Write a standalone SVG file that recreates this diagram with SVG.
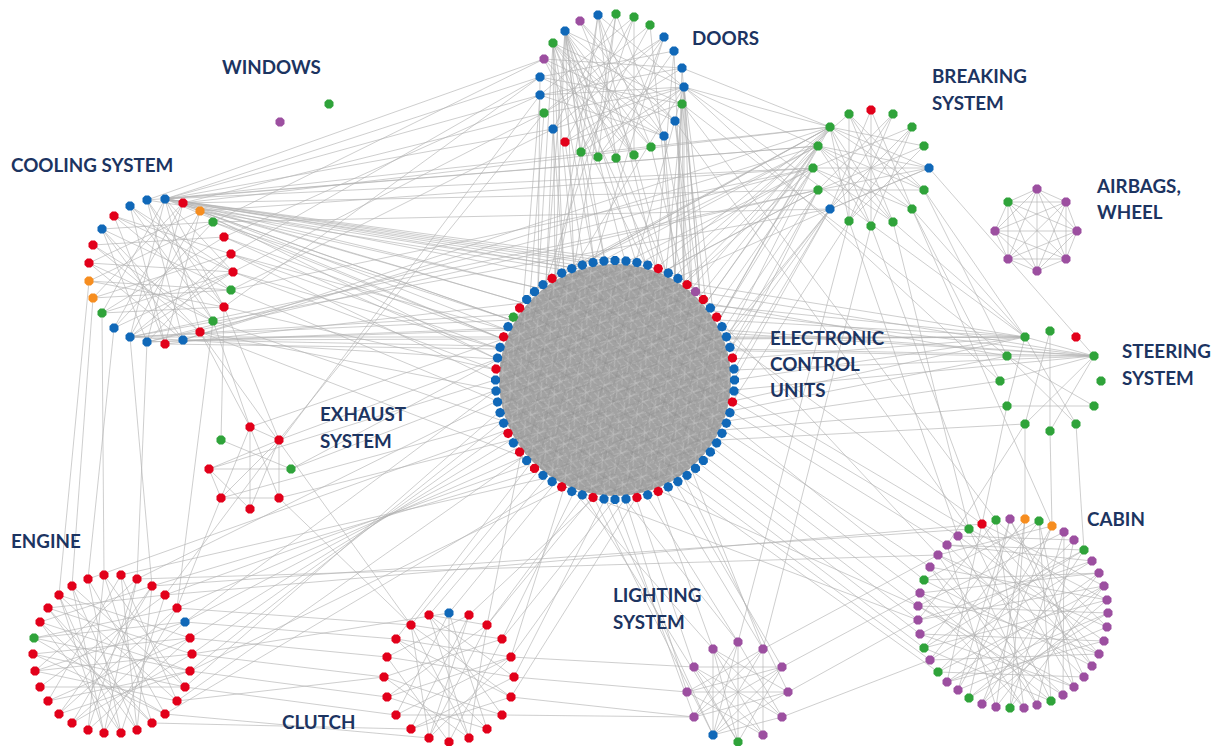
<svg xmlns="http://www.w3.org/2000/svg" width="1220" height="746" viewBox="0 0 1220 746">
<style>
.e{fill:none;stroke:#b2b2b2;stroke-width:0.75;stroke-opacity:0.85}
.b{fill:#1068b8}.r{fill:#e2001a}.g{fill:#2fa33a}.p{fill:#9c4fa0}.o{fill:#f68d1f}
.t{font-family:Lato,"Open Sans","Liberation Sans",sans-serif;font-weight:700;font-size:18.8px;fill:#1c3461}
</style>
<defs>
<polygon id="n" points="4.5,1.9 1.9,4.5 -1.9,4.5 -4.5,1.9 -4.5,-1.9 -1.9,-4.5 1.9,-4.5 4.5,-1.9"/>
<pattern id="mesh" width="14" height="14" patternUnits="userSpaceOnUse" patternTransform="rotate(23)">
<path d="M0 3L14 9M0 11L14 1M4 0L9 14M12 0L2 14" stroke="#c2c2c2" stroke-width="0.7" fill="none"/>
</pattern>
<pattern id="mesh2" width="19" height="17" patternUnits="userSpaceOnUse" patternTransform="rotate(-41)">
<path d="M0 5L19 12M0 14L19 2M7 0L13 17" stroke="#8c8c8c" stroke-width="0.5" fill="none"/>
</pattern>
</defs>
<rect width="1220" height="746" fill="#ffffff"/>
<g id="connectors">
<path class="e" d="M565 31L616 158M565 31L634 155M565 31L651 147M565 31L581 152M565 31L598 157M553 43L664 136M553 43L634 155M553 43L598 157M598 15L616 158M598 15L581 152M598 15L651 147M616 14L598 157M616 14L553 129M634 17L565 142M634 17L540 95M650 25L544 113M650 25L581 152M664 37L581 152M664 37L553 129M664 37L616 158M674 51L540 77M674 51L598 157M682 68L540 95M682 68L565 142M684 87L544 113M684 87L553 129M684 87L540 95M684 87L598 157M684 87L581 152M682 104L565 142M682 104L540 77M675 121L544 59M675 121L565 31M664 136L540 77M664 136L580 21M651 147L553 43M634 155L544 59M580 21L675 121M580 21L634 155M544 59L682 68M540 95L664 136M544 113L664 37M616 14L664 136M634 17L634 155M598 15L684 87M565 31L684 87M553 43L682 104"/>
<path class="e" d="M130 206L213 321M130 206L233 272M147 200L183 340M147 200L224 307M165 199L130 337M165 199L200 332M165 199L102 313M183 203L93 298M183 203L147 342M200 211L89 263M200 211L165 344M213 222L114 328M213 222L89 281M213 222L102 229M224 237L102 313M224 237L93 245M231 254L114 216M231 254L93 298M231 254L130 337M233 272L89 263M233 272L114 328M231 290L102 229M231 290L130 206M231 290L89 281M224 307L114 216M224 307L102 313M213 321L93 245M213 321L147 200M200 332L102 229M183 340L89 263M165 344L130 206M165 344L114 216M147 342L102 229M130 337L200 211M114 328L183 203M102 313L233 272M93 298L231 290M89 281L224 307M89 263L213 321M93 245L200 332M102 229L183 340M114 216L233 272M165 199L233 272M165 199L224 307M130 337L233 272M147 342L231 254"/>
<path class="e" d="M830 127L924 146M830 127L924 190M830 127L893 222M830 127L849 221M818 146L929 168M818 146L912 209M818 146L871 226M813 168L912 127M813 168L929 168M813 168L893 222M818 190L893 114M818 190L924 146M818 190L929 168M830 209L871 110M830 209L912 127M830 209L929 168M849 221L849 114M849 221L893 114M849 221L924 146M871 226L871 110M871 226L912 127M871 226L830 127M893 222L849 114M893 222L818 146M912 209L849 114M912 209L813 168M924 190L818 190M924 190L818 146M849 114L924 190M871 110L912 209M893 114L830 209M912 127L849 221M929 168L830 127M929 168L830 209"/>
<path class="e" d="M1037 189L1066 202M1037 189L1077 231M1037 189L1066 259M1037 189L1037 271M1037 189L1008 259M1037 189L995 231M1037 189L1008 202M1066 202L1077 231M1066 202L1066 259M1066 202L1037 271M1066 202L1008 259M1066 202L995 231M1066 202L1008 202M1077 231L1066 259M1077 231L1037 271M1077 231L1008 259M1077 231L995 231M1077 231L1008 202M1066 259L1037 271M1066 259L1008 259M1066 259L995 231M1066 259L1008 202M1037 271L1008 259M1037 271L995 231M1037 271L1008 202M1008 259L995 231M1008 259L1008 202M995 231L1008 202"/>
<path class="e" d="M1025 337L1094 356M1025 337L1076 424M1025 337L1007 406M1050 331L1050 431M1050 331L1025 424M1007 356L1094 356M1007 356L1094 406M1000 381L1094 356M1007 406L1094 406M1025 424L1094 356M1076 424L1007 356M1050 431L1094 356"/>
<path class="e" d="M250 427L250 509M250 427L221 498M250 427L279 498M250 427L279 440M279 440L279 498M209 469L291 469M209 469L279 440M221 440L291 469M221 498L279 498M209 469L250 509M221 498L279 440M250 509L279 440M209 469L221 498"/>
<path class="e" d="M88 579L121 733M88 579L165 714M104 575L88 730M104 575L185 687M121 575L48 701M121 575L137 730M137 579L35 671M137 579L104 733M152 586L72 723M152 586L40 622M165 595L40 687M165 595L48 608M177 608L59 714M177 608L34 638M185 622L34 638M185 622L35 671M185 622L72 723M190 638L33 654M190 638L59 595M192 654L35 671M192 654L48 608M190 671L40 622M190 671L48 701M185 687L72 586M185 687L33 654M177 701L59 595M177 701L121 575M165 714L34 638M152 723L104 575M152 723L48 608M137 730L152 586M137 730L72 586M121 733L165 595M121 733L40 622M104 733L177 608M104 733L59 595M88 730L190 638M88 730L137 579M72 723L192 654M59 714L190 671M59 714L152 586M48 701L190 638M40 687L185 687M35 671L177 701M33 654L165 714M34 638L190 671M40 622L152 723M48 608L137 730M59 595L121 733M72 586L104 733"/>
<path class="e" d="M449 613L449 742M449 613L396 715M469 615L411 729M469 615L387 657M487 625L387 697M487 625L429 738M502 639L384 677M502 639L411 625M511 657L396 639M511 657L396 715M514 677L387 657M514 677L429 615M511 697L411 625M511 697L411 729M502 715L429 615M502 715L384 677M487 729L396 639M487 729L449 613M469 738L411 625M469 738L487 625M449 742L502 639M429 738L511 657M429 738L469 615M411 729L514 677M396 715L502 715M387 697L511 657M387 697L487 729M384 677L469 738M387 657L449 742M396 639L511 697M411 625L429 738M429 615L469 738M429 615L487 625"/>
<path class="e" d="M738 642L738 742M738 642L694 717M738 642L782 717M763 649L713 735M763 649L687 692M763 649L763 735M782 667L694 717M782 667L694 667M782 667L713 735M788 692L687 692M788 692L713 649M788 692L713 735M782 717L694 667M763 735L713 649M763 735L687 692M738 742L694 667M738 742L782 667M713 735L713 649M713 735L738 642M694 717L763 649M694 717L788 692M687 692L782 667M694 667L763 735M713 649L782 717M713 649L738 742M713 735L782 717"/>
<path class="e" d="M982 524L1074 687M982 524L947 682M996 520L1024 708M996 520L918 620M1010 519L1092 666M1010 519L969 698M1025 519L996 707M1025 519L924 648M1039 521L1051 701M1039 521L924 580M1052 526L958 690M1052 526L938 555M1064 532L1010 708M1064 532L918 606M1074 540L938 672M1074 540L958 536M1084 550L982 704M1084 550L920 634M1092 561L930 660M1092 561L947 545M1099 573L947 682M1099 573L920 593M1104 586L918 620M1104 586L969 698M1107 600L930 567M1107 600L924 648M1108 613L918 606M1108 613L947 682M1107 627L938 555M1107 627L996 520M1104 641L958 536M1104 641L920 634M1099 654L982 524M1099 654L920 593M1092 666L969 529M1092 666L924 580M1084 677L1010 519M1084 677L947 545M1074 687L1039 521M1074 687L918 606M1063 695L930 567M1063 695L1064 532M1051 701L969 529M1051 701L924 648M1037 705L938 555M1037 705L1074 540M1024 708L920 593M1010 708L1025 519M1010 708L1104 586M996 707L1099 573M996 707L947 545M982 704L1107 600M982 704L1052 526M969 698L1108 613M958 690L1107 627M958 690L1010 519M947 682L1104 641M938 672L1104 586M938 672L1084 677M930 660L1099 654M930 660L1039 521M924 648L1084 550M920 634L1074 687M918 620L1092 561M918 606L1063 695M920 593L1051 701M924 580L1099 573M930 567L1024 708M938 555L1099 654M947 545L1084 550M958 536L1037 705M969 529L1107 600M982 524L1104 586"/>
<path class="e" d="M165 199L540 77M165 199L540 95M165 199L553 129M165 199L830 127M165 199L818 146M165 199L813 168M165 199L636 262M165 199L656 268M165 199L594 262M165 199L538 288M165 199L523 303M165 199L511 320M165 199L503 339M165 199L1025 337M165 199L692 288M183 203L523 303M183 203L555 276M183 203L544 113M183 203L818 190M183 203L675 276M183 203L497 359M183 203L830 127M147 200L544 59M147 200L574 268M147 200L818 146M200 211L511 320M200 211L538 288M200 211L1094 356M200 211L813 168M213 222L503 339M213 222L830 209M213 222L544 59M224 237L497 359M224 237L540 95M231 254L495 380M231 254L507 330M231 254L540 77M233 272L500 349M233 272L544 113M231 290L497 401M231 290L813 168M231 290L553 129M224 307L496 370M224 307L279 440M224 307L540 77M224 307L221 440M213 321L503 421M213 321L250 427M213 321L177 608M200 332L496 390M200 332L523 457M200 332L250 427M200 332L411 625M183 340L503 339M183 340L830 127M183 340L818 146M183 340L1007 356M165 344L500 349M165 344L523 303M147 342L507 330M147 342L813 168M147 342L719 320M147 342L818 190M147 342L137 579M130 337L511 320M130 337L1025 337M130 337L818 190M130 337L497 359M130 337L706 303M130 337L830 209M130 337L152 586M114 328L88 579M102 313L104 575M93 298L72 586M89 281L59 595M231 254L500 349M233 272L496 370M224 237L503 339M213 222L511 320M200 211L507 330"/>
<path class="e" d="M565 31L574 268M565 31L555 276M565 31L594 262M565 31L636 262M553 43L555 276M553 43L538 288M553 43L574 268M553 43L656 268M553 129L546 282M553 129L564 272M565 142L584 265M581 152L605 261M598 157L625 261M616 158L646 265M634 155L666 272M651 147L684 282M664 136L692 288M675 121L700 296M682 104L675 276M682 104L706 303M684 87L713 311M684 87L684 282M684 87L666 272M684 87L574 268M684 87L636 262M682 68L700 296M674 51L656 268M664 37L594 262M598 15L555 276M598 15L656 268M616 14L574 268M540 77L538 288M540 95L523 303M544 113L530 296M544 59L646 265M634 17L546 282M650 25L675 276M684 87L830 127M684 87L818 146M684 87L1025 337M682 104L1007 356M682 68L830 127M684 87L1000 381M675 121L969 529M682 104L996 520M544 113L279 440M565 31L605 261M565 31L546 282M553 43L594 262M553 43L564 272M565 31L666 272M684 87L692 288M684 87L700 296M682 104L684 282M675 121L692 288M664 136L675 276M682 68L675 276M674 51L684 282"/>
<path class="e" d="M830 127L675 276M830 127L692 288M830 127L706 303M830 127L574 268M830 127L538 288M818 146L719 320M818 146L700 296M818 146L684 282M818 146L523 303M813 168L727 339M813 168L713 311M813 168L503 339M818 190L723 330M818 190L733 359M818 190L497 359M830 209L730 349M830 209L734 380M830 209L734 370M849 114L666 272M849 221L733 401M818 190L291 469M813 168L511 440M871 226L982 524M893 222L969 529M893 222L1025 337M912 209L1025 337M924 190L1007 356M929 168L1094 356M924 190L1025 337M912 209L1000 381M871 226L763 649M849 221L738 642M830 209L487 625M912 209L1052 526M849 221L958 536M830 127L656 268M830 127L719 320M818 146L706 303M813 168L719 320M818 190L730 349M830 209L727 339M830 127L555 276M818 146L546 282M813 168L511 320M830 209L497 359"/>
<path class="e" d="M719 320L1025 337M727 339L1025 337M733 359L1025 337M734 380L1025 337M733 401L1025 337M713 311L1094 356M723 330L1094 356M730 349L1094 356M734 370L1094 356M734 390L1094 356M730 411L1007 356M727 421L1000 381M723 430L1007 406M538 288L1025 337M511 320L1094 356M503 339L1025 337M719 440L1025 424M706 303L1007 356M1025 424L1025 519M1050 431L1052 526M1007 406L982 524M1025 424L947 545M1076 424L1084 550"/>
<path class="e" d="M727 421L924 580M723 430L930 567M719 440L920 593M713 448L918 606M706 457L918 620M700 464L920 634M733 401L958 536M730 411L947 545M734 390L969 529M727 339L982 524M719 320L938 555M692 471L924 648M684 478L930 660M675 483L938 672M503 421L918 606M555 483L918 620"/>
<path class="e" d="M636 498L694 667M656 492L713 649M646 495L738 642M666 488L763 649M675 483L782 667M625 499L687 692M615 499L694 717M605 499L713 735M594 498L713 735M684 478L788 692M692 471L763 649M625 499L738 642M574 492L713 649M584 495L738 742M788 692L918 620M782 667L920 593M782 717L930 660M763 649L938 555"/>
<path class="e" d="M594 498L469 615M584 495L487 625M574 492L502 639M564 488L511 657M555 483L449 613M605 499L514 677M615 499L502 639M546 478L429 615M538 471L411 625M625 499L511 657M636 498L511 697M530 464L396 639"/>
<path class="e" d="M538 471L152 586M530 464L165 595M523 457L177 608M517 448L185 622M511 440L190 638M507 430L192 654M503 421L190 671M500 411L185 687M497 401L137 579M523 457L177 701M555 483L165 714M546 478L121 575M496 390L185 622M507 430L88 579M564 488L190 671"/>
<path class="e" d="M190 638L387 657M192 654L384 677M190 671L387 697M185 687L396 715M177 701L384 677M165 714L429 738M185 622L396 639M177 608L411 625M152 723L411 729M192 654L449 613M152 586L969 529M165 595L982 524M137 579L938 555M514 677L687 692M511 697L694 717M511 657L694 667M502 715L694 717M487 625L581 152M165 595L540 95"/>
<path class="e" d="M279 440L497 359M291 469L496 390M250 427L503 339M209 469L495 380M221 498L503 421M279 498L511 440M221 498L177 608M279 498L411 625"/>
</g>
<g id="ecu">
<circle cx="615" cy="380" r="116" fill="#a2a2a2"/>
<circle cx="615" cy="380" r="116" fill="url(#mesh)"/>
<circle cx="615" cy="380" r="116" fill="url(#mesh2)"/>
<use href="#n" x="615" y="260.5" class="b" transform="rotate(0 615 380)"/>
<use href="#n" x="615" y="260.5" class="b" transform="rotate(5.29 615 380)"/>
<use href="#n" x="615" y="260.5" class="b" transform="rotate(10.59 615 380)"/>
<use href="#n" x="615" y="260.5" class="b" transform="rotate(15.88 615 380)"/>
<use href="#n" x="615" y="260.5" class="r" transform="rotate(21.18 615 380)"/>
<use href="#n" x="615" y="260.5" class="b" transform="rotate(26.47 615 380)"/>
<use href="#n" x="615" y="260.5" class="b" transform="rotate(31.76 615 380)"/>
<use href="#n" x="615" y="260.5" class="r" transform="rotate(37.06 615 380)"/>
<use href="#n" x="615" y="260.5" class="p" transform="rotate(42.35 615 380)"/>
<use href="#n" x="615" y="260.5" class="r" transform="rotate(47.65 615 380)"/>
<use href="#n" x="615" y="260.5" class="b" transform="rotate(52.94 615 380)"/>
<use href="#n" x="615" y="260.5" class="r" transform="rotate(58.24 615 380)"/>
<use href="#n" x="615" y="260.5" class="b" transform="rotate(63.53 615 380)"/>
<use href="#n" x="615" y="260.5" class="b" transform="rotate(68.82 615 380)"/>
<use href="#n" x="615" y="260.5" class="b" transform="rotate(74.12 615 380)"/>
<use href="#n" x="615" y="260.5" class="r" transform="rotate(79.41 615 380)"/>
<use href="#n" x="615" y="260.5" class="b" transform="rotate(84.71 615 380)"/>
<use href="#n" x="615" y="260.5" class="b" transform="rotate(90 615 380)"/>
<use href="#n" x="615" y="260.5" class="b" transform="rotate(95.29 615 380)"/>
<use href="#n" x="615" y="260.5" class="r" transform="rotate(100.59 615 380)"/>
<use href="#n" x="615" y="260.5" class="b" transform="rotate(105.88 615 380)"/>
<use href="#n" x="615" y="260.5" class="b" transform="rotate(111.18 615 380)"/>
<use href="#n" x="615" y="260.5" class="b" transform="rotate(116.47 615 380)"/>
<use href="#n" x="615" y="260.5" class="b" transform="rotate(121.76 615 380)"/>
<use href="#n" x="615" y="260.5" class="b" transform="rotate(127.06 615 380)"/>
<use href="#n" x="615" y="260.5" class="b" transform="rotate(132.35 615 380)"/>
<use href="#n" x="615" y="260.5" class="b" transform="rotate(137.65 615 380)"/>
<use href="#n" x="615" y="260.5" class="b" transform="rotate(142.94 615 380)"/>
<use href="#n" x="615" y="260.5" class="b" transform="rotate(148.24 615 380)"/>
<use href="#n" x="615" y="260.5" class="b" transform="rotate(153.53 615 380)"/>
<use href="#n" x="615" y="260.5" class="r" transform="rotate(158.82 615 380)"/>
<use href="#n" x="615" y="260.5" class="b" transform="rotate(164.12 615 380)"/>
<use href="#n" x="615" y="260.5" class="r" transform="rotate(169.41 615 380)"/>
<use href="#n" x="615" y="260.5" class="b" transform="rotate(174.71 615 380)"/>
<use href="#n" x="615" y="260.5" class="b" transform="rotate(180 615 380)"/>
<use href="#n" x="615" y="260.5" class="b" transform="rotate(185.29 615 380)"/>
<use href="#n" x="615" y="260.5" class="r" transform="rotate(190.59 615 380)"/>
<use href="#n" x="615" y="260.5" class="b" transform="rotate(195.88 615 380)"/>
<use href="#n" x="615" y="260.5" class="b" transform="rotate(201.18 615 380)"/>
<use href="#n" x="615" y="260.5" class="r" transform="rotate(206.47 615 380)"/>
<use href="#n" x="615" y="260.5" class="b" transform="rotate(211.76 615 380)"/>
<use href="#n" x="615" y="260.5" class="b" transform="rotate(217.06 615 380)"/>
<use href="#n" x="615" y="260.5" class="r" transform="rotate(222.35 615 380)"/>
<use href="#n" x="615" y="260.5" class="b" transform="rotate(227.65 615 380)"/>
<use href="#n" x="615" y="260.5" class="r" transform="rotate(232.94 615 380)"/>
<use href="#n" x="615" y="260.5" class="b" transform="rotate(238.24 615 380)"/>
<use href="#n" x="615" y="260.5" class="r" transform="rotate(243.53 615 380)"/>
<use href="#n" x="615" y="260.5" class="b" transform="rotate(248.82 615 380)"/>
<use href="#n" x="615" y="260.5" class="b" transform="rotate(254.12 615 380)"/>
<use href="#n" x="615" y="260.5" class="b" transform="rotate(259.41 615 380)"/>
<use href="#n" x="615" y="260.5" class="b" transform="rotate(264.71 615 380)"/>
<use href="#n" x="615" y="260.5" class="b" transform="rotate(270 615 380)"/>
<use href="#n" x="615" y="260.5" class="r" transform="rotate(275.29 615 380)"/>
<use href="#n" x="615" y="260.5" class="b" transform="rotate(280.59 615 380)"/>
<use href="#n" x="615" y="260.5" class="b" transform="rotate(285.88 615 380)"/>
<use href="#n" x="615" y="260.5" class="r" transform="rotate(291.18 615 380)"/>
<use href="#n" x="615" y="260.5" class="b" transform="rotate(296.47 615 380)"/>
<use href="#n" x="615" y="260.5" class="g" transform="rotate(301.76 615 380)"/>
<use href="#n" x="615" y="260.5" class="r" transform="rotate(307.06 615 380)"/>
<use href="#n" x="615" y="260.5" class="b" transform="rotate(312.35 615 380)"/>
<use href="#n" x="615" y="260.5" class="b" transform="rotate(317.65 615 380)"/>
<use href="#n" x="615" y="260.5" class="b" transform="rotate(322.94 615 380)"/>
<use href="#n" x="615" y="260.5" class="r" transform="rotate(328.24 615 380)"/>
<use href="#n" x="615" y="260.5" class="b" transform="rotate(333.53 615 380)"/>
<use href="#n" x="615" y="260.5" class="b" transform="rotate(338.82 615 380)"/>
<use href="#n" x="615" y="260.5" class="b" transform="rotate(344.12 615 380)"/>
<use href="#n" x="615" y="260.5" class="b" transform="rotate(349.41 615 380)"/>
<use href="#n" x="615" y="260.5" class="b" transform="rotate(354.71 615 380)"/>
<text class="t" x="770" y="345">ELECTRONIC</text>
<text class="t" x="770" y="371">CONTROL</text>
<text class="t" x="770" y="397">UNITS</text>
</g>
<g id="doors">
<use href="#n" x="580" y="21" class="p"/><use href="#n" x="598" y="15" class="b"/><use href="#n" x="616" y="14" class="g"/><use href="#n" x="634" y="17" class="g"/><use href="#n" x="650" y="25" class="g"/><use href="#n" x="664" y="37" class="b"/><use href="#n" x="674" y="51" class="b"/><use href="#n" x="682" y="68" class="b"/><use href="#n" x="684" y="87" class="b"/><use href="#n" x="682" y="104" class="g"/><use href="#n" x="675" y="121" class="b"/><use href="#n" x="664" y="136" class="b"/><use href="#n" x="651" y="147" class="g"/><use href="#n" x="634" y="155" class="g"/><use href="#n" x="616" y="158" class="g"/><use href="#n" x="598" y="157" class="g"/><use href="#n" x="581" y="152" class="g"/><use href="#n" x="565" y="142" class="r"/><use href="#n" x="553" y="129" class="b"/><use href="#n" x="544" y="113" class="g"/><use href="#n" x="540" y="95" class="b"/><use href="#n" x="540" y="77" class="b"/><use href="#n" x="544" y="59" class="p"/><use href="#n" x="553" y="43" class="g"/><use href="#n" x="565" y="31" class="b"/>
<text class="t" x="692" y="45">DOORS</text>
</g>
<g id="windows">
<use href="#n" x="280" y="122" class="p"/><use href="#n" x="329" y="104" class="g"/>
<text class="t" x="222" y="74">WINDOWS</text>
</g>
<g id="breaking">
<use href="#n" x="849" y="114" class="g"/><use href="#n" x="871" y="110" class="r"/><use href="#n" x="893" y="114" class="g"/><use href="#n" x="912" y="127" class="g"/><use href="#n" x="924" y="146" class="g"/><use href="#n" x="929" y="168" class="b"/><use href="#n" x="924" y="190" class="g"/><use href="#n" x="912" y="209" class="g"/><use href="#n" x="893" y="222" class="g"/><use href="#n" x="871" y="226" class="g"/><use href="#n" x="849" y="221" class="g"/><use href="#n" x="830" y="209" class="b"/><use href="#n" x="818" y="190" class="g"/><use href="#n" x="813" y="168" class="g"/><use href="#n" x="818" y="146" class="g"/><use href="#n" x="830" y="127" class="g"/>
<text class="t" x="932" y="83">BREAKING</text>
<text class="t" x="932" y="110">SYSTEM</text>
</g>
<g id="cooling">
<use href="#n" x="130" y="206" class="b"/><use href="#n" x="147" y="200" class="b"/><use href="#n" x="165" y="199" class="b"/><use href="#n" x="183" y="203" class="r"/><use href="#n" x="200" y="211" class="o"/><use href="#n" x="213" y="222" class="g"/><use href="#n" x="224" y="237" class="r"/><use href="#n" x="231" y="254" class="r"/><use href="#n" x="233" y="272" class="r"/><use href="#n" x="231" y="290" class="g"/><use href="#n" x="224" y="307" class="r"/><use href="#n" x="213" y="321" class="g"/><use href="#n" x="200" y="332" class="r"/><use href="#n" x="183" y="340" class="b"/><use href="#n" x="165" y="344" class="r"/><use href="#n" x="147" y="342" class="b"/><use href="#n" x="130" y="337" class="b"/><use href="#n" x="114" y="328" class="b"/><use href="#n" x="102" y="313" class="g"/><use href="#n" x="93" y="298" class="o"/><use href="#n" x="89" y="281" class="o"/><use href="#n" x="89" y="263" class="r"/><use href="#n" x="93" y="245" class="r"/><use href="#n" x="102" y="229" class="b"/><use href="#n" x="114" y="216" class="r"/>
<text class="t" x="11" y="172">COOLING SYSTEM</text>
</g>
<g id="airbags">
<use href="#n" x="1037" y="189" class="p"/><use href="#n" x="1066" y="202" class="p"/><use href="#n" x="1077" y="231" class="p"/><use href="#n" x="1066" y="259" class="p"/><use href="#n" x="1037" y="271" class="p"/><use href="#n" x="1008" y="259" class="p"/><use href="#n" x="995" y="231" class="p"/><use href="#n" x="1008" y="202" class="g"/>
<text class="t" x="1097" y="193">AIRBAGS,</text>
<text class="t" x="1097" y="219">WHEEL</text>
</g>
<g id="steering">
<use href="#n" x="1025" y="337" class="g"/><use href="#n" x="1050" y="331" class="g"/><use href="#n" x="1076" y="337" class="r"/><use href="#n" x="1094" y="356" class="g"/><use href="#n" x="1101" y="381" class="g"/><use href="#n" x="1094" y="406" class="g"/><use href="#n" x="1076" y="424" class="g"/><use href="#n" x="1050" y="431" class="g"/><use href="#n" x="1025" y="424" class="g"/><use href="#n" x="1007" y="406" class="g"/><use href="#n" x="1000" y="381" class="g"/><use href="#n" x="1007" y="356" class="g"/>
<text class="t" x="1122" y="358">STEERING</text>
<text class="t" x="1122" y="385">SYSTEM</text>
</g>
<g id="exhaust">
<use href="#n" x="250" y="427" class="r"/><use href="#n" x="279" y="440" class="r"/><use href="#n" x="291" y="469" class="g"/><use href="#n" x="279" y="498" class="r"/><use href="#n" x="250" y="509" class="r"/><use href="#n" x="221" y="498" class="r"/><use href="#n" x="209" y="469" class="r"/><use href="#n" x="221" y="440" class="g"/>
<text class="t" x="320" y="421">EXHAUST</text>
<text class="t" x="320" y="448">SYSTEM</text>
</g>
<g id="engine">
<use href="#n" x="88" y="579" class="r"/><use href="#n" x="104" y="575" class="r"/><use href="#n" x="121" y="575" class="r"/><use href="#n" x="137" y="579" class="r"/><use href="#n" x="152" y="586" class="r"/><use href="#n" x="165" y="595" class="r"/><use href="#n" x="177" y="608" class="r"/><use href="#n" x="185" y="622" class="b"/><use href="#n" x="190" y="638" class="r"/><use href="#n" x="192" y="654" class="r"/><use href="#n" x="190" y="671" class="r"/><use href="#n" x="185" y="687" class="r"/><use href="#n" x="177" y="701" class="r"/><use href="#n" x="165" y="714" class="r"/><use href="#n" x="152" y="723" class="r"/><use href="#n" x="137" y="730" class="r"/><use href="#n" x="121" y="733" class="r"/><use href="#n" x="104" y="733" class="r"/><use href="#n" x="88" y="730" class="r"/><use href="#n" x="72" y="723" class="r"/><use href="#n" x="59" y="714" class="r"/><use href="#n" x="48" y="701" class="r"/><use href="#n" x="40" y="687" class="r"/><use href="#n" x="35" y="671" class="r"/><use href="#n" x="33" y="654" class="r"/><use href="#n" x="34" y="638" class="g"/><use href="#n" x="40" y="622" class="r"/><use href="#n" x="48" y="608" class="r"/><use href="#n" x="59" y="595" class="r"/><use href="#n" x="72" y="586" class="r"/>
<text class="t" x="11" y="548">ENGINE</text>
</g>
<g id="clutch">
<use href="#n" x="449" y="613" class="b"/><use href="#n" x="469" y="615" class="r"/><use href="#n" x="487" y="625" class="r"/><use href="#n" x="502" y="639" class="r"/><use href="#n" x="511" y="657" class="r"/><use href="#n" x="514" y="677" class="r"/><use href="#n" x="511" y="697" class="r"/><use href="#n" x="502" y="715" class="r"/><use href="#n" x="487" y="729" class="r"/><use href="#n" x="469" y="738" class="r"/><use href="#n" x="449" y="742" class="r"/><use href="#n" x="429" y="738" class="r"/><use href="#n" x="411" y="729" class="r"/><use href="#n" x="396" y="715" class="r"/><use href="#n" x="387" y="697" class="r"/><use href="#n" x="384" y="677" class="r"/><use href="#n" x="387" y="657" class="r"/><use href="#n" x="396" y="639" class="r"/><use href="#n" x="411" y="625" class="r"/><use href="#n" x="429" y="615" class="r"/>
<text class="t" x="282" y="729">CLUTCH</text>
</g>
<g id="lighting">
<use href="#n" x="738" y="642" class="p"/><use href="#n" x="763" y="649" class="p"/><use href="#n" x="782" y="667" class="p"/><use href="#n" x="788" y="692" class="p"/><use href="#n" x="782" y="717" class="p"/><use href="#n" x="763" y="735" class="p"/><use href="#n" x="738" y="742" class="g"/><use href="#n" x="713" y="735" class="b"/><use href="#n" x="694" y="717" class="p"/><use href="#n" x="687" y="692" class="p"/><use href="#n" x="694" y="667" class="p"/><use href="#n" x="713" y="649" class="p"/>
<text class="t" x="613" y="602">LIGHTING</text>
<text class="t" x="613" y="629">SYSTEM</text>
</g>
<g id="cabin">
<use href="#n" x="982" y="524" class="r"/><use href="#n" x="996" y="520" class="g"/><use href="#n" x="1010" y="519" class="p"/><use href="#n" x="1025" y="519" class="o"/><use href="#n" x="1039" y="521" class="g"/><use href="#n" x="1052" y="526" class="o"/><use href="#n" x="1064" y="532" class="p"/><use href="#n" x="1074" y="540" class="p"/><use href="#n" x="1084" y="550" class="g"/><use href="#n" x="1092" y="561" class="p"/><use href="#n" x="1099" y="573" class="p"/><use href="#n" x="1104" y="586" class="p"/><use href="#n" x="1107" y="600" class="p"/><use href="#n" x="1108" y="613" class="p"/><use href="#n" x="1107" y="627" class="p"/><use href="#n" x="1104" y="641" class="p"/><use href="#n" x="1099" y="654" class="p"/><use href="#n" x="1092" y="666" class="p"/><use href="#n" x="1084" y="677" class="p"/><use href="#n" x="1074" y="687" class="p"/><use href="#n" x="1063" y="695" class="p"/><use href="#n" x="1051" y="701" class="g"/><use href="#n" x="1037" y="705" class="p"/><use href="#n" x="1024" y="708" class="p"/><use href="#n" x="1010" y="708" class="g"/><use href="#n" x="996" y="707" class="p"/><use href="#n" x="982" y="704" class="p"/><use href="#n" x="969" y="698" class="g"/><use href="#n" x="958" y="690" class="p"/><use href="#n" x="947" y="682" class="p"/><use href="#n" x="938" y="672" class="g"/><use href="#n" x="930" y="660" class="p"/><use href="#n" x="924" y="648" class="g"/><use href="#n" x="920" y="634" class="p"/><use href="#n" x="918" y="620" class="p"/><use href="#n" x="918" y="606" class="p"/><use href="#n" x="920" y="593" class="p"/><use href="#n" x="924" y="580" class="g"/><use href="#n" x="930" y="567" class="p"/><use href="#n" x="938" y="555" class="p"/><use href="#n" x="947" y="545" class="p"/><use href="#n" x="958" y="536" class="p"/><use href="#n" x="969" y="529" class="g"/>
<text class="t" x="1087" y="526">CABIN</text>
</g>
</svg>
